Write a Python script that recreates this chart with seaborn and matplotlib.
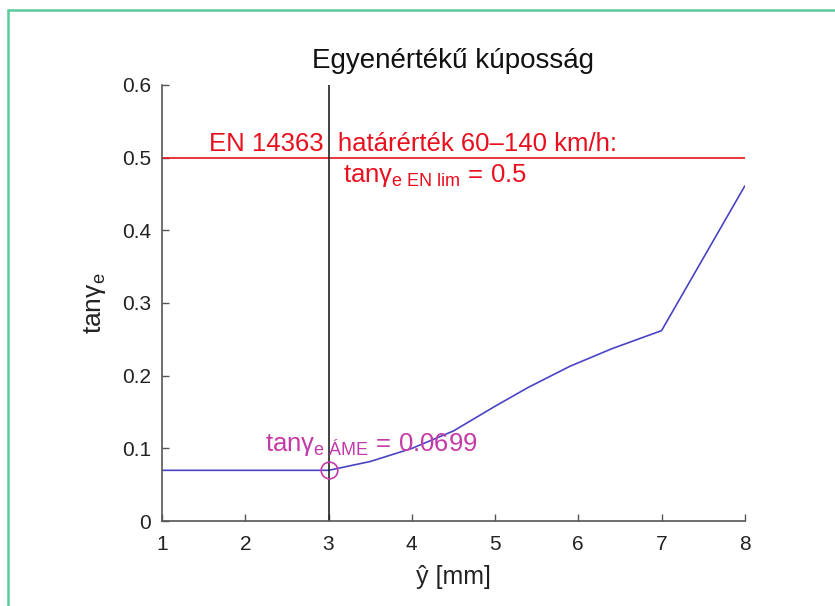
import matplotlib
matplotlib.use("Agg")
import matplotlib.pyplot as plt
import seaborn as sns
import pandas as pd
from matplotlib.lines import Line2D

# Data
y_hat = [1.0, 2.0, 3.0, 3.5, 4.0, 4.5, 5.0, 5.4, 5.9, 6.4, 7.0, 8.0]
tan_gamma = [0.0699, 0.0699, 0.0699, 0.082, 0.100, 0.124, 0.158, 0.184, 0.213, 0.237, 0.262, 0.461]
limit_value = 0.5
ame_x = 3.0
ame_value = 0.0699
x_ticks = [1, 2, 3, 4, 5, 6, 7, 8]
y_ticks = [0, 0.1, 0.2, 0.3, 0.4, 0.5, 0.6]

sns.set_theme(style="white")
plt.rcParams['font.family'] = ['Liberation Sans', 'DejaVu Sans']
plt.rcParams['mathtext.fontset'] = 'custom'
plt.rcParams['mathtext.rm'] = 'Liberation Sans'
plt.rcParams['mathtext.it'] = 'Liberation Sans'
plt.rcParams['mathtext.bf'] = 'Liberation Sans:bold'

fig = plt.figure(figsize=(8.35, 6.06), dpi=100)
ax = fig.add_axes([0.194, 0.140, 0.698, 0.720])

df = pd.DataFrame({"x": y_hat, "y": tan_gamma})
sns.lineplot(data=df, x="x", y="y", ax=ax, color="#4a44c4", lw=1.2)

ax.axhline(limit_value, color="#e8101e", lw=1.2)
ax.axvline(ame_x, color="#222222", lw=1.2)
ax.plot([ame_x], [ame_value], marker="o", ms=12, mfc="none", mec="#c43aa8", mew=1.2)

ax.set_xlim(1, 8)
ax.set_ylim(0, 0.6)
ax.set_xticks(x_ticks)
ax.set_yticks(y_ticks)
ax.set_xticklabels([str(t) for t in x_ticks])
ax.set_yticklabels([("0" if t == 0 else f"{t:.1f}") for t in y_ticks])
ax.tick_params(direction="in", length=5, width=1, color="#555555", labelsize=15,
               labelcolor="#222222", bottom=True, left=True)
ax.tick_params(axis="y", pad=8)
ax.tick_params(axis="x", pad=10)
for s in ["top", "right"]:
    ax.spines[s].set_visible(False)
for s in ["left", "bottom"]:
    ax.spines[s].set_color("#555555")
    ax.spines[s].set_linewidth(1.2)

ax.set_title("Egyenértékű kúposság", fontsize=20, color="#111111", pad=12)
ax.set_xlabel("ŷ [mm]", fontsize=18, color="#222222", labelpad=8)
ax.set_ylabel(r"tanγ$_{\mathrm{e}}$", fontsize=19, color="#222222", labelpad=10)

ax.text(4.01, 0.509, "EN 14363  határérték 60–140 km/h:", color="#e8101e",
        fontsize=18.5, ha="center", va="baseline")
ax.text(3.17, 0.466, r"tanγ$_{\mathrm{e\ EN\ lim}}$ = 0.5", color="#e8101e",
        fontsize=18.5, ha="left", va="baseline")
ax.text(2.24, 0.096, r"tanγ$_{\mathrm{e\ ÁME}}$ = 0.0699", color="#c43aa8",
        fontsize=18.5, ha="left", va="baseline")

# green frame
fig.add_artist(Line2D([8/835, 8/835], [-0.1, 1 - 10/606], transform=fig.transFigure,
                      color="#5ccb9c", lw=1.8))
fig.add_artist(Line2D([8/835, 1.1], [1 - 10/606, 1 - 10/606], transform=fig.transFigure,
                      color="#5ccb9c", lw=1.8))

fig.savefig("out.png", dpi=100)
